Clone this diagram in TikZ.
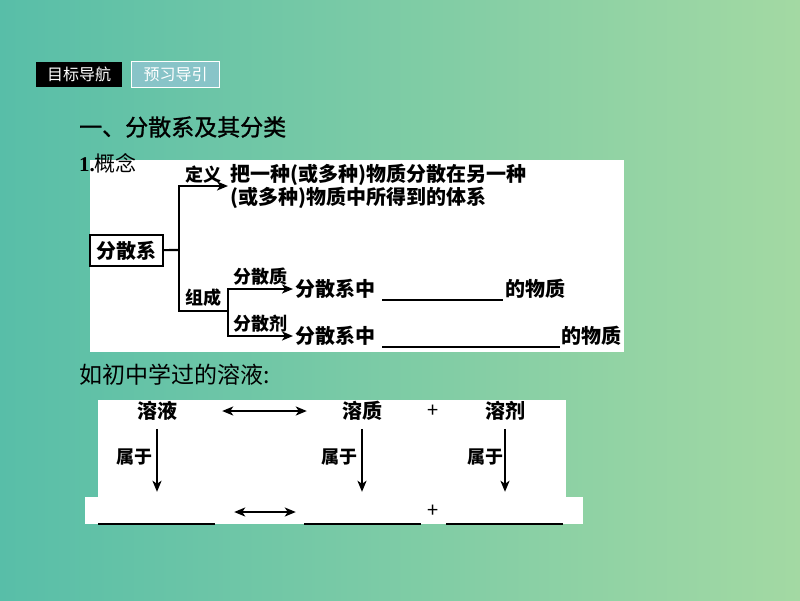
\documentclass[tikz,border=0pt]{standalone}
\usepackage{fontspec}
\setmainfont{Liberation Serif}
\newfontfamily\cjk{Noto Sans CJK SC}
\newfontfamily\cjkmid[FakeBold=1.2]{Noto Sans CJK SC}
\usetikzlibrary{arrows.meta}

\definecolor{bgL}{RGB}{88,190,168}
\definecolor{bgR}{RGB}{163,217,163}
\definecolor{tabB}{RGB}{136,196,200}

\begin{document}
\begin{tikzpicture}[x=1pt, y=-1pt, >={Stealth[length=11pt,width=9pt,inset=3pt]},
    every node/.style={inner sep=2pt},
    tab/.style={text=white, minimum width=86, minimum height=25, inner sep=0, font=\cjk\fontsize{16}{18}\selectfont},
    txt/.style={font=\cjk\bfseries\fontsize{20}{23}\selectfont},
    lab/.style={font=\cjk\bfseries\fontsize{18}{20}\selectfont},
    big/.style={anchor=west, font=\cjk\fontsize{23}{27}\selectfont},
    blank/.style={minimum width=117, minimum height=32, inner sep=0},
    pl/.style={font=\cjk\fontsize{20}{22}\selectfont}]
  \useasboundingbox (0,0) rectangle (800,600);
  \shade[left color=bgL, right color=bgR] (0,0) rectangle (800,600);

  % tabs and titles
  \node[tab, fill=black] (T1) at (79,74.5) {目标导航};
  \node[tab, fill=tabB, draw=white, line width=1, minimum width=88, minimum height=26] (T2) at (175.5,74.5) {预习导引};
  \node[big, font=\cjkmid\fontsize{23}{27}\selectfont] (H) at (77,127) {一、分散系及其分类};
  \node[big] (E) at (77,375) {如初中学过的溶液:};

  % 1. concept
  \fill[white] (90,160) rectangle (624,352);
  \node[anchor=west, font=\cjk\fontsize{21}{24}\selectfont] (G) at (77,163) {{\rmfamily\bfseries 1.}概念};
  \node[txt, draw, line width=2.2, minimum width=73, minimum height=31, inner sep=0] (FS) at (126.5,250.5) {分散系};
  \coordinate (J) at (179,250);
  \coordinate (K) at (228,311);
  \node[txt, anchor=west, align=left] (D) at (228,186) {把一种(或多种)物质分散在另一种\\(或多种)物质中所得到的体系};
  \node[txt, anchor=west, text height=16.5pt, text depth=1.5pt] (Z1) at (293,289)
    {分散系中\hspace{7pt}\rule[-4.5pt]{121pt}{1.6pt}\hspace{2pt}的物质};
  \node[txt, anchor=west, text height=16.5pt, text depth=1.5pt] (Z2) at (293,336)
    {分散系中\hspace{7pt}\rule[-4.5pt]{178pt}{1.6pt}\hspace{1pt}的物质};
  \draw[line width=2.2] (FS) -- (J);
  \draw[line width=2.2, ->] (J) |- node[lab, above, pos=0.75]{定义} (D.west);
  \draw[line width=2.2] (J) |- node[lab, above, pos=0.75, inner sep=3pt]{组成} (K);
  \draw[line width=2.2, ->] (K) |- node[lab, above, pos=0.75, inner sep=3pt]{分散质} (Z1.west);
  \draw[line width=2.2, ->] (K) |- node[lab, above, pos=0.75, inner sep=3pt]{分散剂} (Z2.west);

  % solution example
  \fill[white] (98,400) rectangle (566,497);
  \fill[white] (85,497) rectangle (583,524);
  \node[txt] (RY) at (157,411) {溶液};
  \node[txt] (RZ) at (362,411) {溶质};
  \node[pl] (P1) at (433,411) {+};
  \node[txt] (RJ) at (505,411) {溶剂};
  \node[blank] (B1) at (156.5,508) {};
  \node[blank] (B2) at (362.5,508) {};
  \node[pl] (P2) at (433,511) {+};
  \node[blank] (B3) at (504.5,508) {};
  \foreach \b in {B1,B2,B3}
    \draw[line width=1.8] (\b.south west) -- (\b.south east);
  \draw[<->, line width=2.2, shorten <=43, shorten >=33] (RY) -- (RZ);
  \draw[<->, line width=2.2, shorten <=19, shorten >=8]
    ([yshift=-4pt]B1.east) -- ([yshift=-4pt]B2.west);
  \draw[->, line width=2, shorten <=6] (RY.south) -- node[lab, left, inner sep=4pt]{属于} (RY.south |- B1.north);
  \draw[->, line width=2, shorten <=6] (RZ.south) -- node[lab, left, inner sep=4pt]{属于} (RZ.south |- B2.north);
  \draw[->, line width=2, shorten <=6] (RJ.south) -- node[lab, left, inner sep=1pt]{属于} (RJ.south |- B3.north);
\end{tikzpicture}
\end{document}
